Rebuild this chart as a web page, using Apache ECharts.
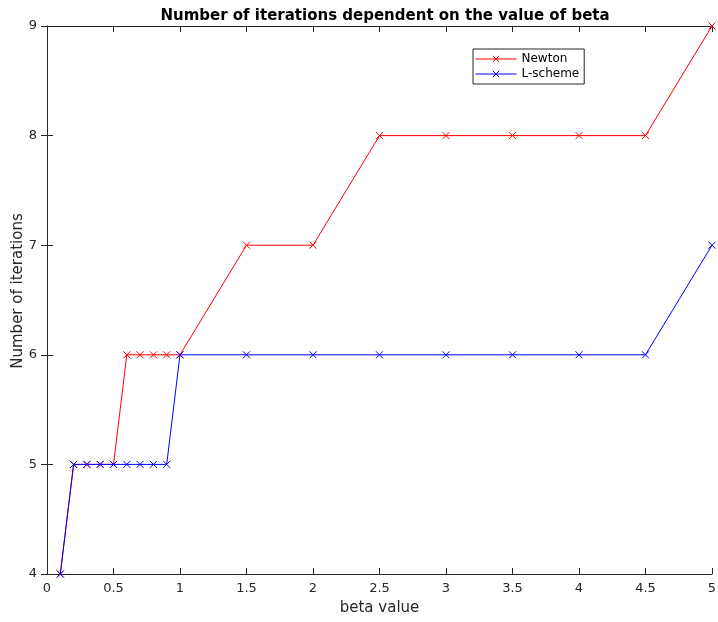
<!DOCTYPE html>
<html><head><meta charset="utf-8">
<script src="https://cdn.jsdelivr.net/npm/echarts@6/dist/echarts.min.js"></script>
<style>html,body{margin:0;padding:0;background:#fff}#c{width:718px;height:622px}</style>
</head><body><div id="c"></div>
<script>
const betaValues = [0.1,0.2,0.3,0.4,0.5,0.6,0.7,0.8,0.9,1.0,1.5,2,2.5,3,3.5,4,4.5,5];
const newtonIters = [4,5,5,5,5,6,6,6,6,6,7,7,8,8,8,8,8,9];
const lschemeIters = [4,5,5,5,5,5,5,5,5,6,6,6,6,6,6,6,6,7];
const xTicks = [0,0.5,1,1.5,2,2.5,3,3.5,4,4.5,5];
const yTicks = [4,5,6,7,8,9];

const cross = 'path://M0,0L10,10M10,0L0,10';
const chart = echarts.init(document.getElementById('c'));
const axisCol = '#262626';
const fontFam = 'DejaVu Sans, sans-serif';
function mk(name, xs, ys, col){
  return {name, type:'line', xAxisIndex:0, yAxisIndex:0,
    data: xs.map((x,i)=>[x, ys[i]]),
    symbol: cross, symbolSize: 7,
    lineStyle:{color:col, width:1},
    itemStyle:{color:'none', borderColor:col, borderWidth:1},
    emphasis:{disabled:true}, animation:false};
}
chart.setOption({
  animation:false,
  title:{text:'Number of iterations dependent on the value of beta', left:380, textAlign:'center', top:4,
    textStyle:{fontSize:15, fontWeight:'bold', color:'#000', fontFamily:fontFam}},
  grid:{left:47, right:6, top:26, bottom:48, containLabel:false, outerBoundsMode:'none'},
  legend:{orient:'vertical', left:473, top:49, padding:[4,5,4,2], itemGap:3, itemWidth:41, itemHeight:8,
    borderColor:'#262626', borderWidth:1, backgroundColor:'#fff',
    lineStyle:{width:1}, itemStyle:{borderWidth:1},
    textStyle:{fontSize:12, color:'#000', fontFamily:fontFam},
    data:['Newton','L-scheme']},
  xAxis:[
    {type:'value', min:0, max:5, interval:0.5, name:'beta value', nameLocation:'middle', nameGap:27, nameMoveOverlap:false,
     nameTextStyle:{fontSize:15, color:axisCol, fontFamily:fontFam},
     axisLine:{lineStyle:{color:axisCol}}, axisTick:{inside:true, length:6, lineStyle:{color:axisCol}},
     axisLabel:{color:axisCol, fontSize:13, fontFamily:fontFam, formatter:v=>xTicks.includes(v)?String(v):''},
     splitLine:{show:false}},
    {type:'value', min:0, max:5, interval:0.5, position:'top',
     axisLine:{lineStyle:{color:axisCol}}, axisTick:{inside:true, length:6, lineStyle:{color:axisCol}},
     axisLabel:{show:false}, splitLine:{show:false}}
  ],
  yAxis:[
    {type:'value', min:4, max:9, interval:1, name:'Number of iterations', nameLocation:'middle', nameGap:21, nameMoveOverlap:false,
     nameTextStyle:{fontSize:15, color:axisCol, fontFamily:fontFam, padding:[0,0,0,18]},
     axisLine:{show:true, lineStyle:{color:axisCol}}, axisTick:{show:true, inside:true, length:6, lineStyle:{color:axisCol}},
     axisLabel:{color:axisCol, fontSize:13, fontFamily:fontFam, margin:10, formatter:v=>yTicks.includes(v)?String(v):''},
     splitLine:{show:false}},
    {type:'value', min:4, max:9, interval:1, position:'right',
     axisLine:{show:true, lineStyle:{color:axisCol}}, axisTick:{show:true, inside:true, length:6, lineStyle:{color:axisCol}},
     axisLabel:{show:false}, splitLine:{show:false}}
  ],
  series:[
    mk('Newton', betaValues, newtonIters, '#ff0000'),
    mk('L-scheme', betaValues, lschemeIters, '#0000ff')
  ]
});
</script></body></html>
